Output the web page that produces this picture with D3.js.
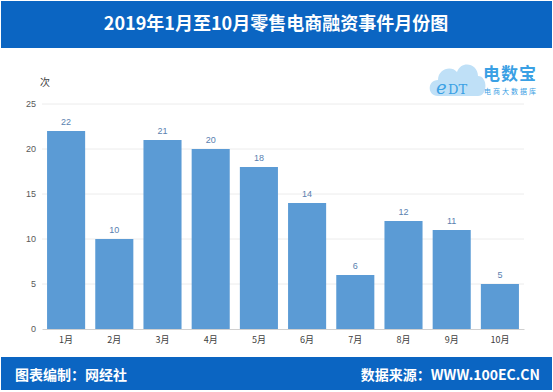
<!DOCTYPE html>
<html><head><meta charset="utf-8">
<script src="https://cdn.jsdelivr.net/npm/d3@7"></script>
<style>body{margin:0;background:#fff}svg{display:block}</style>
</head><body>
<svg id="c" width="553" height="392"></svg>
<script>
const categories = ["1月","2月","3月","4月","5月","6月","7月","8月","9月","10月"];
const values = [22,10,21,20,18,14,6,12,11,5];
const yTicks = [0,5,10,15,20,25];
const title = "2019年1月至10月零售电商融资事件月份图";
const yLabel = "次";
const footLeft = "图表编制：网经社";
const footRight = "数据来源：WWW.100EC.CN";

const svg = d3.select("#c");
const font = "'Noto Sans CJK SC', 'Liberation Sans', sans-serif";
svg.append("rect").attr("x",0).attr("y",0).attr("width",553).attr("height",392).attr("fill","#fff");
// header
svg.append("rect").attr("x",1).attr("y",1).attr("width",551).attr("height",47).attr("fill","#0b65c2");
svg.append("text").attr("x",276).attr("y",30).attr("text-anchor","middle")
  .attr("fill","#fff").attr("font-family",font).attr("font-weight","bold").attr("font-size",18).text(title);
// footer
svg.append("rect").attr("x",1).attr("y",357).attr("width",551).attr("height",33).attr("fill","#0b65c2");
svg.append("text").attr("x",15).attr("y",380).attr("fill","#fff").attr("font-family",font)
  .attr("font-weight","bold").attr("font-size",14).text(footLeft);
svg.append("text").attr("x",540).attr("y",380).attr("text-anchor","end").attr("fill","#fff").attr("font-family",font)
  .attr("font-weight","bold").attr("font-size",14).text(footRight);

const x = d3.scaleBand().domain(categories).range([42,524]).paddingInner(0.21).paddingOuter(0.105);
const y = d3.scaleLinear().domain([0,25]).range([329,104]);

const g = svg.append("g");
g.selectAll("line.grid").data(yTicks.filter(d=>d>0)).join("line")
  .attr("x1",42).attr("x2",524).attr("y1",d=>y(d)).attr("y2",d=>y(d))
  .attr("stroke","#ececec").attr("stroke-width",1);

const yAxis = g.append("g").attr("transform","translate(42,0)")
  .call(d3.axisLeft(y).tickValues(yTicks).tickSize(0).tickPadding(6));
yAxis.select(".domain").remove();
yAxis.selectAll("text").attr("font-family","'Liberation Sans', sans-serif").attr("font-size",9).attr("fill","#595959");

g.selectAll("rect.bar").data(values).join("rect")
  .attr("x",(d,i)=>x(categories[i])).attr("width",x.bandwidth())
  .attr("y",d=>y(d)).attr("height",d=>y(0)-y(d)).attr("fill","#5b9bd5");

g.selectAll("text.val").data(values).join("text")
  .attr("x",(d,i)=>x(categories[i])+x.bandwidth()/2).attr("y",d=>y(d)-6)
  .attr("text-anchor","middle").attr("font-family","'Liberation Sans', sans-serif").attr("font-size",9)
  .attr("fill","#5a7fb0").text(d=>d);

const xAxis = g.append("g").attr("transform","translate(0,329)")
  .call(d3.axisBottom(x).tickSize(0).tickPadding(8));
xAxis.select(".domain").attr("stroke","#d0d0d0");
xAxis.selectAll("text").attr("font-family",font).attr("font-size",9).attr("fill","#404040");

svg.append("text").attr("x",40).attr("y",86).attr("font-family",font).attr("font-size",10).attr("fill","#404040").text(yLabel);

// logo
const lg = svg.append("g").attr("transform","translate(430,56)");
lg.append("path").attr("d","M8,40 C-3,40 -3,24 8,24 C8,13 21,9 27,16 C31,4 48,7 48,20 C58,20 58,40 48,40 Z")
  .attr("fill","#bfe0f7");
lg.append("text").attr("x",6).attr("y",38).attr("font-family","'DejaVu Serif', serif").attr("font-size",18)
  .attr("fill","#3aa0e4").attr("font-style","italic").text("e");
lg.append("text").attr("x",18).attr("y",38).attr("font-family","'DejaVu Serif', serif").attr("font-size",13)
  .attr("fill","#3aa0e4").text("DT");
lg.append("text").attr("x",53).attr("y",24).attr("font-family",font).attr("font-weight","bold").attr("font-size",17)
  .attr("fill","#3aa0e4").attr("letter-spacing",1).text("电数宝");
lg.append("text").attr("x",54).attr("y",38).attr("font-family",font).attr("font-size",7)
  .attr("fill","#3aa0e4").attr("letter-spacing",2).text("电商大数据库");
</script>
</body></html>
